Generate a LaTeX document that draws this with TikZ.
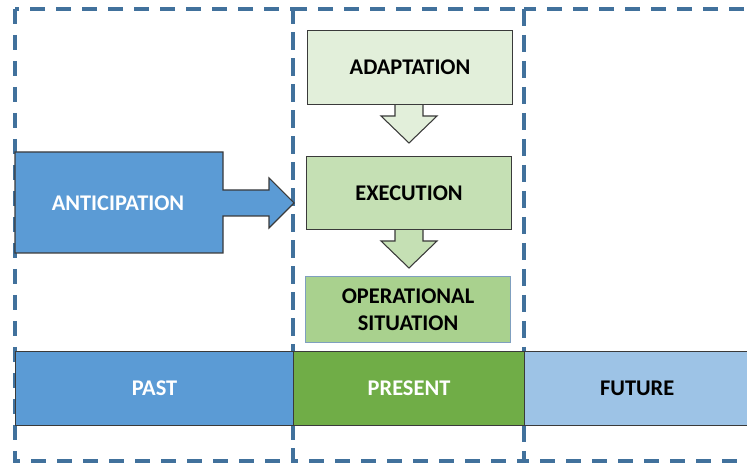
\documentclass[tikz,border=0pt]{standalone}
\usepackage{fontspec}
\setmainfont{Carlito}
\definecolor{dashblue}{HTML}{41719C}
\definecolor{antblue}{HTML}{5B9BD5}
\definecolor{futblue}{HTML}{9DC3E6}
\definecolor{presgreen}{HTML}{70AD47}
\definecolor{adapt}{HTML}{E2EFDA}
\definecolor{exec}{HTML}{C5E0B4}
\definecolor{opsit}{HTML}{A9D18E}
\definecolor{opline}{HTML}{7F9FBF}
\definecolor{edge}{HTML}{3A3A3A}
\tikzset{
  zone/.style={draw=dashblue, line width=2.5pt, dash pattern=on 11pt off 8.5pt},
  shp/.style={draw=edge, line width=0.8pt},
  lbl/.style={font=\bfseries\fontsize{16.8}{19}\selectfont, align=center},
}
\begin{document}
\begin{tikzpicture}[x=0.75pt,y=-0.75pt]
\useasboundingbox (0,0) rectangle (747,463);
\clip (0,0) rectangle (747,463);
% zones
\draw[zone] (15,9) rectangle (293,461);
\draw[zone] (293,9) rectangle (524,461);
\draw[zone] (524,9) rectangle (780,461);
% anticipation callout arrow
\draw[shp, fill=antblue] (15,152) -- (223,152) -- (223,190) -- (269,190) -- (269,178)
  -- (294,203) -- (269,228) -- (269,216) -- (223,216) -- (223,253) -- (15,253) -- cycle;
\node[lbl, text=white] (ant) at (118,203) {ANTICIPATION};
% adaptation
\draw[shp, fill=adapt] (395,104) -- (395,116) -- (381,116) -- (409,143) -- (437,116) -- (423,116) -- (423,104);
\node[shp, fill=adapt, minimum width=205*0.75pt, minimum height=74*0.75pt, anchor=north west, lbl] (adapt) at (307,30) {ADAPTATION};
% execution
\draw[shp, fill=exec] (395,229) -- (395,241) -- (381,241) -- (409,268) -- (437,241) -- (423,241) -- (423,229);
\node[shp, fill=exec, minimum width=205*0.75pt, minimum height=73*0.75pt, anchor=north west, lbl] (exec) at (306,156) {EXECUTION};
% operational situation
\node[draw=opline, line width=0.8pt, fill=opsit, minimum width=205*0.75pt, minimum height=66*0.75pt, anchor=north west, lbl] (ops) at (305,276) {OPERATIONAL\\[1pt]SITUATION};
% time bar
\node[shp, fill=antblue, minimum width=278*0.75pt, minimum height=74*0.75pt, anchor=north west, lbl, text=white] (past) at (15,351) {PAST};
\node[shp, fill=presgreen, minimum width=231*0.75pt, minimum height=74*0.75pt, anchor=north west, lbl, text=white] (present) at (293,351) {PRESENT};
\node[shp, fill=futblue, minimum width=260*0.75pt, minimum height=74*0.75pt, anchor=north west, lbl, text=black, text width=220*0.75pt, inner xsep=0pt] (future) at (524,351) {\hspace*{-6pt}FUTURE\hspace*{20pt}};
\end{tikzpicture}
\end{document}
